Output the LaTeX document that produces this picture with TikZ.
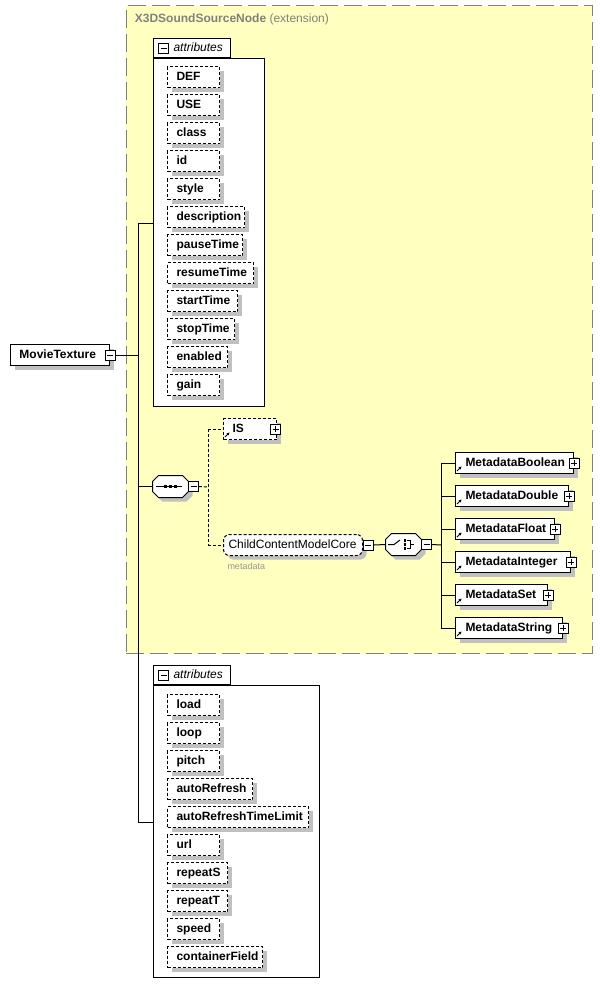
\documentclass[tikz,border=0pt]{standalone}
\usepackage{fontspec}
\setmainfont{Liberation Sans}
\usetikzlibrary{shadows,arrows.meta}
\definecolor{extfill}{RGB}{255,255,192}
\definecolor{extline}{RGB}{128,128,128}
\definecolor{shadowgray}{RGB}{192,192,192}
\definecolor{notegray}{RGB}{150,150,150}

\begin{document}
\begin{tikzpicture}[x=1pt, y=-1pt, line width=1pt,
  shade box/.style={drop shadow={shadow xshift=4pt, shadow yshift=-4pt, fill=shadowgray, opacity=1}},
  elem node/.style={draw, fill=white, anchor=west, inner xsep=0pt, minimum height=21pt,
    text height=9pt, text depth=3pt, align=left, font=\fontsize{12}{14}\selectfont\bfseries, shade box},
  attr node/.style={elem node, dash pattern=on 3pt off 2pt},
  group box/.style={draw, fill=white, anchor=north west, inner sep=0pt},
  tab node/.style={draw, fill=white, anchor=south west, inner xsep=0pt, text width=77pt, minimum height=19pt,
    text height=9pt, text depth=3pt, align=left, font=\fontsize{12}{14}\selectfont\itshape},
  sym node/.style={minimum width=35pt, minimum height=21pt, inner sep=0pt},
  pm box/.style={draw, fill=white, minimum size=10pt, inner sep=0pt, line width=.8pt},
  minus/.style={pm box, path picture={\draw[line width=.8pt] ([xshift=2pt]path picture bounding box.west) -- ([xshift=-2pt]path picture bounding box.east);}},
  plus/.style={pm box, path picture={\draw[line width=.8pt] ([xshift=2pt]path picture bounding box.west) -- ([xshift=-2pt]path picture bounding box.east)
    ([yshift=-2pt]path picture bounding box.north) -- ([yshift=2pt]path picture bounding box.south);}},
  ref mark/.style={-{Stealth[length=3pt,width=3pt]}, line width=.9pt},
  dot line/.style={dash pattern=on 3pt off 2pt}]

  \useasboundingbox (0,0) rectangle (602,997);

  % extension area
  \node[draw=extline, fill=extfill, dash pattern=on 18pt off 6pt, anchor=north west, inner sep=0pt,
    minimum width=466pt, minimum height=648pt] (ext) at (125.5,5) {};
  \node[anchor=west, text=extline, font=\fontsize{12}{14}\selectfont] (extname) at (131,19)
    {\bfseries X3DSoundSourceNode \mdseries(extension)};

  % attribute groups
  \node[group box, minimum width=111pt, minimum height=348pt] (grp1) at (153,58) {};
  \node[tab node] (tab1) at (grp1.north west) {\hspace*{20pt}attributes};
  \node[minus] (tab1m) at ([xshift=10.5pt]tab1.west) {};
  \foreach \nm/\w [count=\i] in {DEF/52, USE/52, class/52, id/52, style/52, description/77,
      pauseTime/75, resumeTime/86, startTime/70, stopTime/67, enabled/60, gain/52}
    \node[attr node, text width=\w pt] (att\i) at (167,{49+28*\i}) {\hspace*{9pt}\nm};

  \node[group box, minimum width=166pt, minimum height=292pt] (grp2) at (153,685) {};
  \node[tab node] (tab2) at (grp2.north west) {\hspace*{20pt}attributes};
  \node[minus] (tab2m) at ([xshift=10.5pt]tab2.west) {};
  \foreach \nm/\w [count=\i] in {load/52, loop/52, pitch/52, autoRefresh/85, autoRefreshTimeLimit/141,
      url/52, repeatS/60, repeatT/60, speed/52, containerField/95}
    \node[attr node, text width=\w pt] (mat\i) at (167,{677+28*\i}) {\hspace*{9pt}\nm};

  % root element
  \node[elem node, text width=99pt] (movie) at (10,355) {\hspace*{9pt}MovieTexture};
  \node[minus] (moviem) at (movie.east) {};

  % sequence and choice symbols
  \node[sym node] (seq) at (170.5,486.5) {};
  \node[sym node] (cho) at (403.5,544.5) {};
  \foreach \s in {seq, cho}
    \draw[fill=white, shade box] ([xshift=6pt]\s.north west) -- ([xshift=-6pt]\s.north east)
      -- ([yshift=-6pt]\s.north east) -- ([yshift=6pt]\s.south east) -- ([xshift=-6pt]\s.south east)
      -- ([xshift=6pt]\s.south west) -- ([yshift=6pt]\s.south west) -- ([yshift=-6pt]\s.north west) -- cycle;
  \node[minus] (seqm) at ([xshift=5pt]seq.east) {};
  \node[minus] (chom) at ([xshift=5pt]cho.east) {};
  \draw ([xshift=-14.5pt]seq.center) -- ([xshift=11.5pt]seq.center);
  \foreach \dx in {-5,0,5}
    \fill ([xshift=\dx pt]seq.center) +(-1.5,-1.5) rectangle +(1.5,1.5);
  \draw ([xshift=-15.5pt]cho.center) -- ([xshift=-9.5pt]cho.center) -- ([shift={(-3.5pt,4.5pt)}]cho.center);
  \foreach \dy in {-4,0,4}
    \fill ([shift={(1.5pt,\dy pt)}]cho.center) +(-1.3,-1.3) rectangle +(1.3,1.3);
  \draw[line width=.8pt] ([shift={(3.5pt,4pt)}]cho.center) -- ([shift={(7pt,4pt)}]cho.center)
    -- ([shift={(7pt,-4pt)}]cho.center) -- ([shift={(3.5pt,-4pt)}]cho.center)
    ([xshift=7pt]cho.center) -- ([xshift=10.5pt]cho.center);

  \node[attr node, text width=53pt] (is) at (223,429) {\hspace*{9pt}IS};
  \node[plus] (isp) at ([xshift=-1.5pt]is.east) {};
  \draw[ref mark] ([shift={(2pt,3pt)}]is.south west) -- ++(4.5,-4.5);

  \node[attr node, rounded corners=6pt, text width=139pt, font=\fontsize{12}{14}\selectfont] (core) at (223,545)
    {\hspace*{5pt}ChildContentModelCore};
  \node[minus, anchor=west] (corem) at (core.east) {};
  \node[anchor=west, text=notegray, font=\fontsize{9}{10}\selectfont, inner sep=0pt] (coregrp) at (227,566) {metadata};

  \foreach \nm/\w [count=\i] in {MetadataBoolean/118, MetadataDouble/113, MetadataFloat/99,
      MetadataInteger/115, MetadataSet/92, MetadataString/107}
  {
    \node[elem node, text width=\w pt] (md\i) at (455,{430+33*\i}) {\hspace*{10pt}\nm};
    \node[plus] (md\i p) at (md\i.east) {};
    \draw[ref mark] ([shift={(2pt,3pt)}]md\i.south west) -- ++(4.5,-4.5);
  }

  % connectors
  \coordinate (t1) at (138,223);
  \coordinate (t2) at (138,822);
  \coordinate (d1) at (208,487);
  \coordinate (c1) at (441,545);
  \draw (t1) -- (t2);
  \draw (t1) -- (t1 -| grp1.west);
  \draw (t2) -- (t2 -| grp2.west);
  \draw (moviem.east) -- (moviem.east -| t1);
  \draw (seq.west -| t1) -- (seq.west);
  \draw[dot line] (seqm.east) -- (d1);
  \draw[dot line] (is.west -| d1) -- (core.west -| d1);
  \draw[dot line] (is.west -| d1) -- (is.west);
  \draw[dot line] (core.west -| d1) -- (core.west);
  \draw (corem.east) -- (cho.west);
  \draw (chom.east) -- (c1);
  \draw (md1.west -| c1) -- (md6.west -| c1);
  \foreach \i in {1,...,6}
    \draw (md\i.west -| c1) -- (md\i.west);
\end{tikzpicture}
\end{document}
